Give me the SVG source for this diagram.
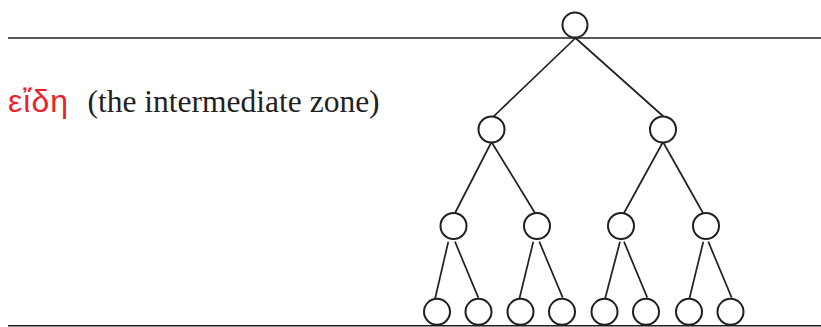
<svg xmlns="http://www.w3.org/2000/svg" width="821" height="327" viewBox="0 0 821 327">
<style>
.node{fill:#fff;stroke:#231f20;stroke-width:2}
.edge{stroke:#231f20;stroke-width:1.7;fill:none}
.rule{stroke:#231f20;stroke-width:1.6}
.gr{font-family:"Liberation Sans","DejaVu Sans",sans-serif;font-size:32px;letter-spacing:1px;fill:#e8232a}
.lbl{font-family:"Liberation Serif","Times New Roman",serif;font-size:31.5px;fill:#231f20}
</style>
<line class="rule" x1="8" y1="38" x2="821" y2="38"/>
<line class="rule" x1="8" y1="325.7" x2="821" y2="325.7"/>
<text class="gr" x="8" y="111.5">εἴδη</text>
<text class="lbl" x="87.5" y="111.5">(the intermediate zone)</text>
<g id="connectors">
<line class="edge" x1="575.5" y1="38" x2="493" y2="117"/>
<line class="edge" x1="575.5" y1="38" x2="664" y2="117"/>
<line class="edge" x1="491.5" y1="142" x2="455" y2="213"/>
<line class="edge" x1="491.5" y1="142" x2="535" y2="213"/>
<line class="edge" x1="663" y1="142" x2="624" y2="213"/>
<line class="edge" x1="663" y1="142" x2="703" y2="213"/>
<line class="edge" x1="448.3" y1="241.7" x2="435" y2="299"/>
<line class="edge" x1="455" y1="241.7" x2="478.3" y2="297.7"/>
<line class="edge" x1="533.3" y1="241.7" x2="519.3" y2="299"/>
<line class="edge" x1="539.3" y1="241.7" x2="562.7" y2="297.7"/>
<line class="edge" x1="620" y1="241.7" x2="605" y2="299"/>
<line class="edge" x1="624" y1="241.7" x2="647.3" y2="297.7"/>
<line class="edge" x1="703.3" y1="241.7" x2="689.3" y2="299"/>
<line class="edge" x1="708.3" y1="241.7" x2="731.7" y2="297.7"/>
</g>
<g id="n0"><circle class="node" cx="575" cy="25" r="12.5"/></g>
<g id="n1"><circle class="node" cx="491.5" cy="129.5" r="13"/></g>
<g id="n2"><circle class="node" cx="663" cy="129.5" r="13"/></g>
<g id="n3"><circle class="node" cx="453.5" cy="226" r="13"/></g>
<g id="n4"><circle class="node" cx="537" cy="226" r="13"/></g>
<g id="n5"><circle class="node" cx="621" cy="226" r="13"/></g>
<g id="n6"><circle class="node" cx="706" cy="226" r="13"/></g>
<g id="n7"><circle class="node" cx="437" cy="311.8" r="13"/></g>
<g id="n8"><circle class="node" cx="478.5" cy="311.8" r="13"/></g>
<g id="n9"><circle class="node" cx="520.5" cy="311.8" r="13"/></g>
<g id="n10"><circle class="node" cx="562" cy="311.8" r="13"/></g>
<g id="n11"><circle class="node" cx="604.5" cy="311.8" r="13"/></g>
<g id="n12"><circle class="node" cx="646" cy="311.8" r="13"/></g>
<g id="n13"><circle class="node" cx="689" cy="311.8" r="13"/></g>
<g id="n14"><circle class="node" cx="730.5" cy="311.8" r="13"/></g>
</svg>
